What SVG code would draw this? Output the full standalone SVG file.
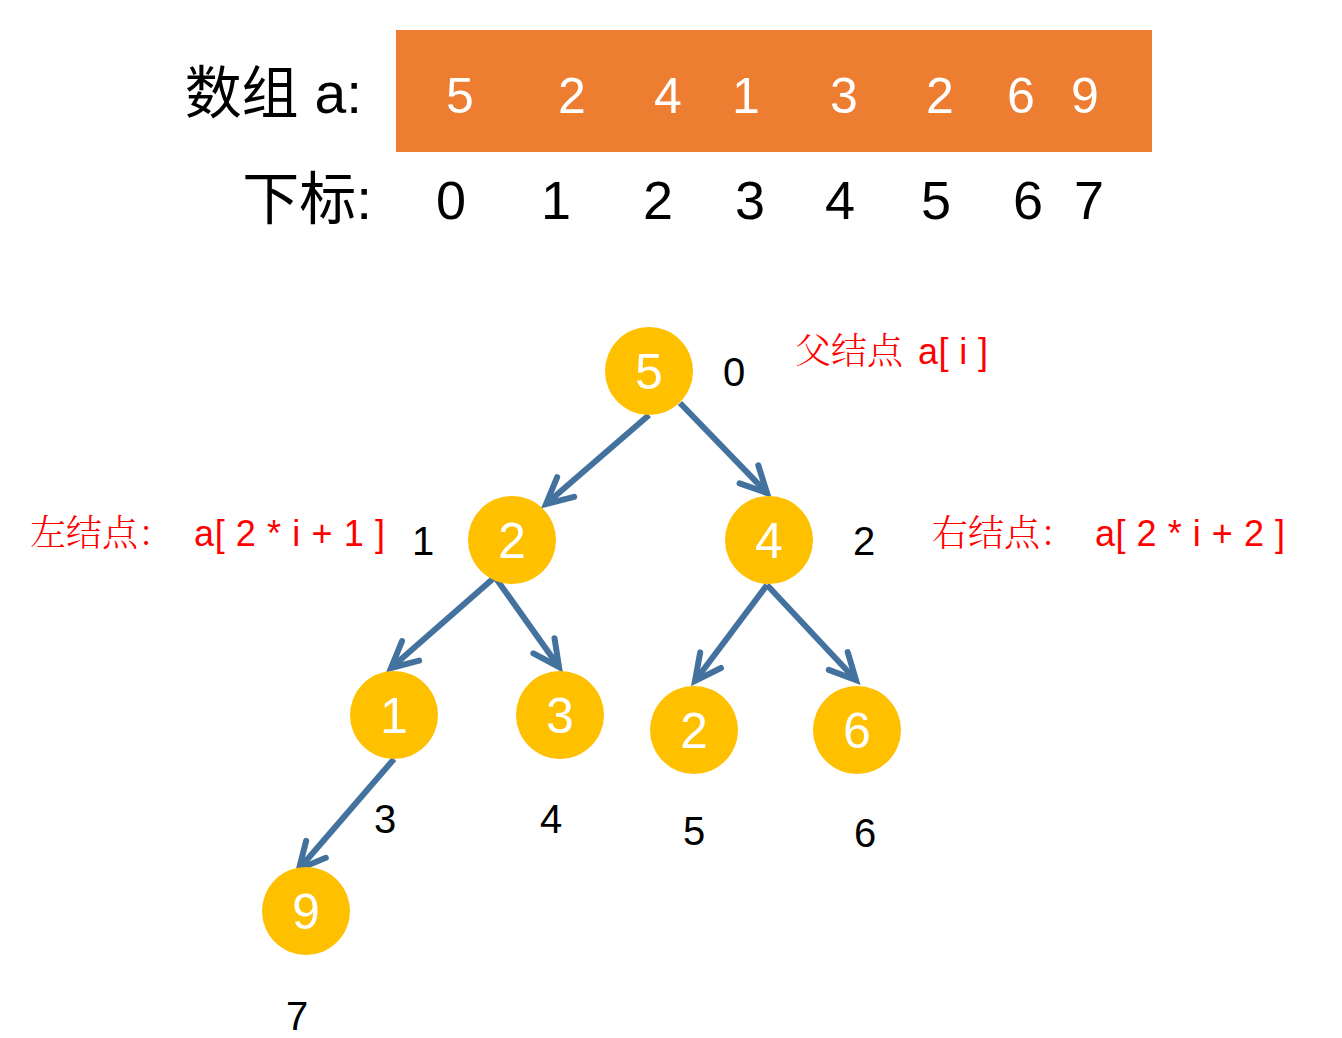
<svg xmlns="http://www.w3.org/2000/svg" width="1342" height="1038" viewBox="0 0 1342 1038">
<style>
.node circle{fill:#FFC000}
.node text{fill:#fff;font-family:"Liberation Sans","Noto Sans CJK SC",sans-serif;font-size:50px;text-anchor:middle}
.idx{fill:#000;font-family:"Liberation Sans","Noto Sans CJK SC",sans-serif;font-size:40px;text-anchor:middle}
.big{fill:#000;font-family:"Liberation Sans","Noto Sans CJK SC",sans-serif;font-size:54px}
.bigcjk{fill:#000;font-family:"Liberation Sans","Noto Sans CJK SC",sans-serif;font-size:57px;text-anchor:end}
.arr{fill:#fff;font-family:"Liberation Sans","Noto Sans CJK SC",sans-serif;font-size:50px;text-anchor:middle}
.red{fill:#FF0000;font-family:"Liberation Sans","Noto Sans CJK SC",sans-serif;font-size:36px}
.redcjk{fill:#FF0000;font-family:"Noto Serif CJK SC","Noto Sans CJK SC",sans-serif;font-size:36px;font-weight:300}
.edge{stroke:#44729E;stroke-width:6;fill:none;stroke-linecap:butt}
</style>
<defs>
<marker id="ah" markerUnits="userSpaceOnUse" orient="auto" overflow="visible" markerWidth="40" markerHeight="40" refX="0" refY="0">
<path d="M-26,-13 L0,0 L-26,13" fill="none" stroke="#44729E" stroke-width="6" stroke-linecap="round" stroke-linejoin="miter"/>
</marker>
</defs>
<rect width="1342" height="1038" fill="#fff"/>
<g id="array">
<text class="bigcjk" x="362" y="113">数组 a:</text>
<rect x="396" y="30" width="756" height="122" fill="#ED7D31"/>
<text class="arr" x="460" y="113">5</text>
<text class="arr" x="572" y="113">2</text>
<text class="arr" x="668" y="113">4</text>
<text class="arr" x="746" y="113">1</text>
<text class="arr" x="844" y="113">3</text>
<text class="arr" x="940" y="113">2</text>
<text class="arr" x="1021" y="113">6</text>
<text class="arr" x="1085" y="113">9</text>
<text class="bigcjk" x="372" y="219">下标:</text>
<text class="big" x="451" y="219" text-anchor="middle">0</text>
<text class="big" x="556" y="219" text-anchor="middle">1</text>
<text class="big" x="658" y="219" text-anchor="middle">2</text>
<text class="big" x="750" y="219" text-anchor="middle">3</text>
<text class="big" x="840" y="219" text-anchor="middle">4</text>
<text class="big" x="936" y="219" text-anchor="middle">5</text>
<text class="big" x="1028" y="219" text-anchor="middle">6</text>
<text class="big" x="1089" y="219" text-anchor="middle">7</text>
</g>
<g id="edges">
<line class="edge" x1="649" y1="415" x2="546" y2="504" marker-end="url(#ah)"/>
<line class="edge" x1="680" y1="403" x2="767" y2="493" marker-end="url(#ah)"/>
<line class="edge" x1="495" y1="577" x2="391" y2="668" marker-end="url(#ah)"/>
<line class="edge" x1="495" y1="577" x2="559" y2="667" marker-end="url(#ah)"/>
<line class="edge" x1="767" y1="585" x2="695" y2="681" marker-end="url(#ah)"/>
<line class="edge" x1="767" y1="585" x2="856" y2="680" marker-end="url(#ah)"/>
<line class="edge" x1="394" y1="759" x2="299" y2="869" marker-end="url(#ah)"/>
</g>
<g id="n0" class="node"><circle cx="649" cy="371" r="44"/><text x="649" y="389">5</text></g>
<g id="n1" class="node"><circle cx="512" cy="540" r="44"/><text x="512" y="558">2</text></g>
<g id="n2" class="node"><circle cx="769" cy="540" r="44"/><text x="769" y="558">4</text></g>
<g id="n3" class="node"><circle cx="394" cy="715" r="44"/><text x="394" y="733">1</text></g>
<g id="n4" class="node"><circle cx="560" cy="715" r="44"/><text x="560" y="733">3</text></g>
<g id="n5" class="node"><circle cx="694" cy="730" r="44"/><text x="694" y="748">2</text></g>
<g id="n6" class="node"><circle cx="857" cy="730" r="44"/><text x="857" y="748">6</text></g>
<g id="n7" class="node"><circle cx="306" cy="911" r="44"/><text x="306" y="929">9</text></g>
<g id="indices">
<text class="idx" x="734" y="386">0</text>
<text class="idx" x="423" y="555">1</text>
<text class="idx" x="864" y="555">2</text>
<text class="idx" x="385" y="833">3</text>
<text class="idx" x="551" y="833">4</text>
<text class="idx" x="694" y="845">5</text>
<text class="idx" x="865" y="847">6</text>
<text class="idx" x="297" y="1030">7</text>
</g>
<g id="labels">
<text class="redcjk" x="795" y="364">父结点</text>
<text class="red" x="918" y="364" textLength="70" lengthAdjust="spacing">a[ i ]</text>
<text class="redcjk" x="30" y="546">左结点：</text>
<text class="red" x="194" y="546" textLength="191" lengthAdjust="spacing">a[ 2 * i + 1 ]</text>
<text class="redcjk" x="932" y="546">右结点：</text>
<text class="red" x="1095" y="546" textLength="190" lengthAdjust="spacing">a[ 2 * i + 2 ]</text>
</g>
</svg>
